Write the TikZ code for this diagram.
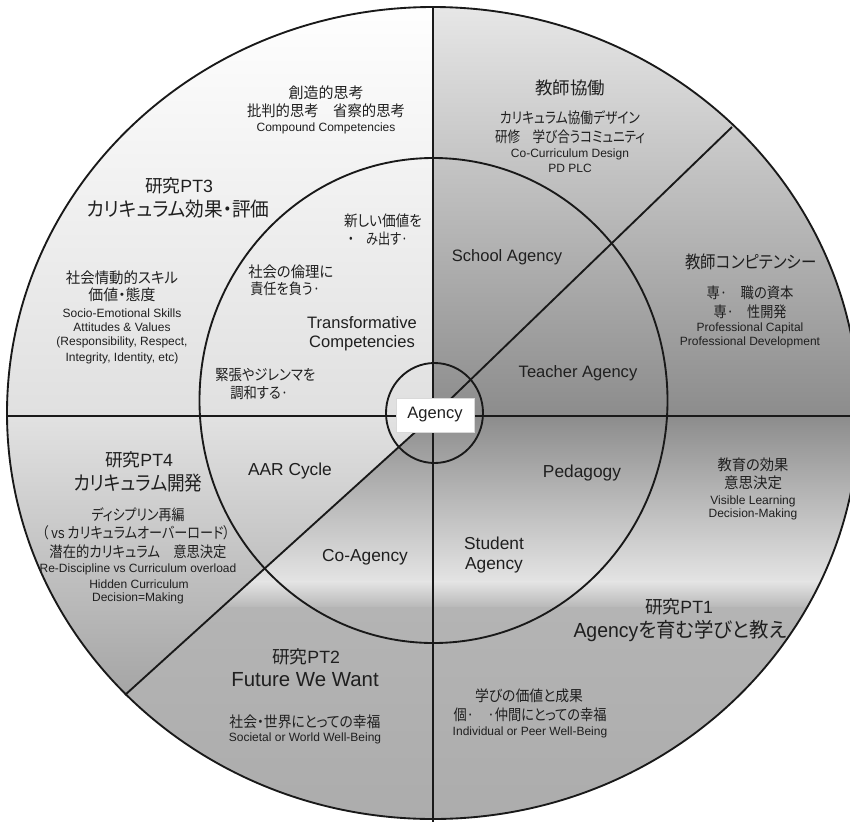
\documentclass[tikz,border=0pt]{standalone}
\usepackage{fontspec}
\usepackage{graphicx}
\setmainfont{Liberation Sans}
\newfontfamily\jp[RawFeature=+palt]{Noto Sans CJK JP}
\newlength\pxu
\setlength\pxu{0.75pt}
\newcommand\fitw[2]{\resizebox{#1\pxu}{\height}{#2}}
\definecolor{txt}{gray}{0.12}
\definecolor{cA}{gray}{0.549}
\definecolor{cB}{gray}{0.894}
\definecolor{cC}{gray}{0.714}
\definecolor{cD}{gray}{0.706}
\definecolor{cE}{gray}{0.675}
\definecolor{cF}{gray}{0.886}
\definecolor{cG}{gray}{0.643}
\definecolor{cH}{gray}{0.91}
\definecolor{cI}{gray}{0.878}
\begin{document}
\begin{tikzpicture}[x=0.75pt,y=-0.75pt,
  every node/.style={inner sep=0pt, text=txt},
  jpm/.style={font=\jp\fontsize{11.3pt}{13pt}\selectfont},
  jph/.style={font=\jp\fontsize{13pt}{15pt}\selectfont},
  jpbig/.style={font=\jp\fontsize{14.8pt}{17pt}\selectfont},
  ptl/.style={font=\fontsize{13.3pt}{15pt}\selectfont},
  big/.style={font=\fontsize{15.3pt}{17pt}\selectfont},
  ens/.style={font=\fontsize{9pt}{10.5pt}\selectfont},
  mid/.style={font=\fontsize{12.4pt}{14pt}\selectfont},
  midl/.style={font=\fontsize{13pt}{15pt}\selectfont},
  ln/.style={line width=1.4pt, draw=black!90}]
\useasboundingbox (0,0) rectangle (850,822);
\clip (0,0) rectangle (850,822);
% ---------- fills ----------
\begin{scope}
  \clip (433,413) ellipse [x radius=426, y radius=406];
  \shade[top color=white, bottom color=cI] (0,0) rectangle (433.5,416.5);
  \shade[top color=cH, bottom color=cA] (432.5,0) rectangle (850,416.5);
  \shade[top color=cA, bottom color=cB] (0,415.5) rectangle (850,582.5);
  \shade[top color=cB, bottom color=cC] (0,581.5) rectangle (850,608.5);
  \shade[top color=cD, bottom color=cE] (0,607.5) rectangle (850,822);
  \begin{scope}
    \clip (433,416) -- (0,416) -- (0,808) -- cycle;
    \shade[top color=cF, bottom color=cG] (0,415) rectangle (433,700);
  \end{scope}
\end{scope}
% ---------- lines ----------
\coordinate (c0) at (433,416);
\coordinate (vt) at (433,7);
\coordinate (vb) at (433,822);
\coordinate (hl) at (7,416);
\coordinate (hr) at (850,416);
\coordinate (dr) at (732,127);
\coordinate (dl) at (125,695);
\draw[ln] (vt) -- (vb);
\draw[ln] (hl) -- (hr);
\draw[ln] (dr) -- (c0) -- (dl);
\draw[ln] (433,413) ellipse [x radius=426, y radius=406];
\draw[ln] (433.5,400.5) ellipse [x radius=234, y radius=242.5];
\draw[ln] (434.5,413) ellipse [x radius=48.5, y radius=50];
% ---------- Agency box ----------
\node[mid, fill=white, draw=black!15, line width=0.4pt, minimum width=78*0.75pt, minimum height=34*0.75pt] (agency) at (435,415) {Agency};
% ---------- upper left ----------
\node[jpm] (n1) at (326,93) {\fitw{75}{創造的思考}};
\node[jpm] (n2) at (326,111) {\fitw{158}{批判的思考　省察的思考}};
\node[ens] (n3) at (326,128) {Compound Competencies};
\node[ptl] (n4) at (179,186) {{\jp 研究}PT3};
\node[jpbig] (n5) at (178,209) {\fitw{183}{カリキュラム効果・評価}};
\node[jpm] (n6) at (122,278) {\fitw{112}{社会情動的スキル}};
\node[jpm] (n7) at (122,295) {\fitw{67}{価値・態度}};
\node[ens] (n8) at (122,313) {Socio-Emotional Skills};
\node[ens] (n9) at (122,327) {Attitudes \& Values};
\node[ens] (n10) at (122,342) {(Responsibility, Respect,};
\node[ens] (n11) at (122,358) {Integrity, Identity, etc)};
% inner upper left
\node[jpm] (n12) at (383,221) {\fitw{78}{新しい価値を}};
\node[jpm] (n13) at (378,239) {\fitw{60}{・　み出す·}};
\node[jpm, anchor=west] (n14) at (248,272) {\fitw{85}{社会の倫理に}};
\node[jpm, anchor=west] (n15) at (250,289) {\fitw{70}{責任を負う·}};
\node[mid] (n16) at (362,323) {Transformative};
\node[mid] (n17) at (362,343) {Competencies};
\node[jpm, anchor=west] (n18) at (215,375) {\fitw{100}{緊張やジレンマを}};
\node[jpm, anchor=west] (n19) at (230,393) {\fitw{58}{調和する·}};
% ---------- upper right ----------
\node[jph] (n20) at (570,88) {\fitw{70}{教師協働}};
\node[jpm] (n21) at (570,118) {\fitw{140}{カリキュラム協働デザイン}};
\node[jpm] (n22) at (570,137) {\fitw{150}{研修　学び合うコミュニティ}};
\node[ens] (n23) at (570,154) {Co-Curriculum Design};
\node[ens] (n24) at (570,168) {PD PLC};
\node[mid] (n25) at (507,257) {School Agency};
\node[mid] (n26) at (578,373) {Teacher Agency};
\node[jph] (n27) at (751,262) {\fitw{131}{教師コンピテンシー}};
\node[jpm] (n28) at (750,293) {\fitw{87}{専·　職の資本}};
\node[jpm] (n29) at (750,312) {\fitw{73}{専·　性開発}};
\node[ens] (n30) at (750,328) {Professional Capital};
\node[ens] (n31) at (750,342) {Professional Development};
% ---------- lower right ----------
\node[midl] (n32) at (582,473) {Pedagogy};
\node[midl] (n33) at (494,543) {Student};
\node[midl] (n34) at (494,565) {Agency};
\node[jpm] (n35) at (753,465) {\fitw{71}{教育の効果}};
\node[jpm] (n36) at (753,483) {\fitw{58}{意思決定}};
\node[ens] (n37) at (753,501) {Visible Learning};
\node[ens] (n38) at (753,514) {Decision-Making};
\node[ptl] (n39) at (679,607) {{\jp 研究}PT1};
\node[big] (n40) at (680,631) {\fitw{213}{Agency{\jp を育む学びと教え}}};
\node[jpm] (n41) at (529,696) {\fitw{108}{学びの価値と成果}};
\node[jpm] (n42) at (530,715) {\fitw{153}{個·　·仲間にとっての幸福}};
\node[ens] (n43) at (530,732) {Individual or Peer Well-Being};
% ---------- lower left ----------
\node[ptl] (n44) at (139,460) {{\jp 研究}PT4};
\node[jpbig] (n45) at (138,483) {\fitw{129}{カリキュラム開発}};
\node[jpm] (n46) at (138,515) {\fitw{93}{ディシプリン再編}};
\node[jpm] (n47) at (136,533) {\fitw{188}{（\ {\fontspec{Liberation Sans}vs} カリキュラムオーバーロード）}};
\node[jpm] (n48) at (138,552) {\fitw{177}{潜在的カリキュラム　意思決定}};
\node[ens] (n49) at (138,569) {Re-Discipline vs Curriculum overload};
\node[ens] (n50) at (139,584) {Hidden Curriculum};
\node[ens] (n51) at (138,598) {Decision=Making};
\node[midl] (n52) at (290,471) {AAR Cycle};
\node[midl] (n53) at (365,557) {Co-Agency};
\node[ptl] (n54) at (306,657) {{\jp 研究}PT2};
\node[big] (n55) at (305,680) {Future We Want};
\node[jpm] (n56) at (305,722) {\fitw{151}{社会・世界にとっての幸福}};
\node[ens] (n57) at (305,738) {Societal or World Well-Being};
\end{tikzpicture}
\end{document}
